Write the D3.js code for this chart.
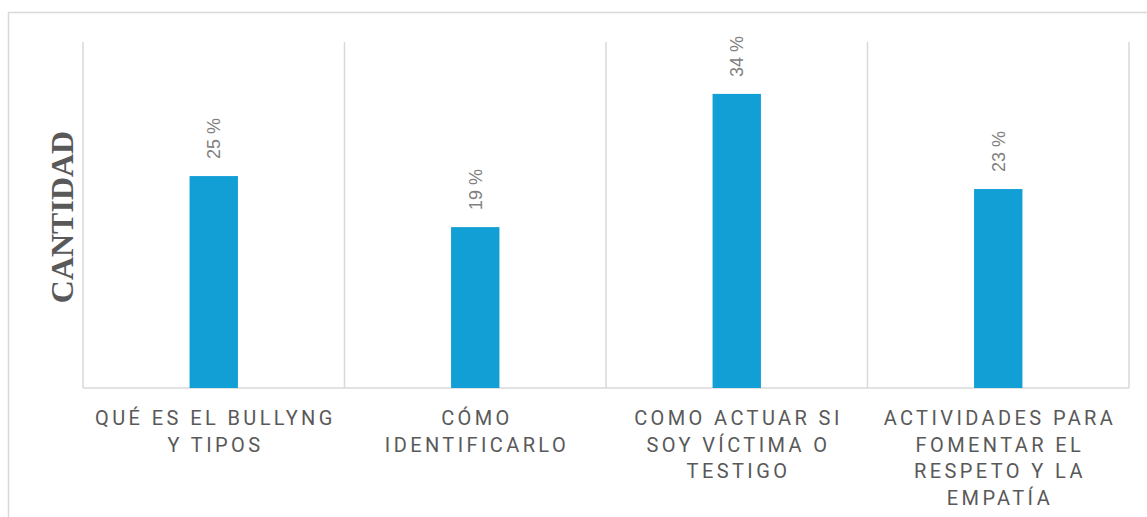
<!DOCTYPE html>
<html>
<head>
<meta charset="utf-8">
<script src="https://cdn.jsdelivr.net/npm/d3@7"></script>
<style>
	html, body { margin: 0; padding: 0; background: #fff; }
	svg { display: block; }
</style>
</head>
<body>
<svg width="1147" height="517"></svg>
<script>
	// categories, each one already split in lines like the original
	var categories = ["QUÉ ES EL BULLYNG Y TIPOS", "CÓMO IDENTIFICARLO", "COMO ACTUAR SI SOY VÍCTIMA O TESTIGO", "ACTIVIDADES PARA FOMENTAR EL RESPETO Y LA EMPATÍA"];
	var categoryLines = [
		["QUÉ ES EL BULLYNG", "Y TIPOS"],
		["CÓMO", "IDENTIFICARLO"],
		["COMO ACTUAR SI", "SOY VÍCTIMA O", "TESTIGO"],
		["ACTIVIDADES PARA", "FOMENTAR EL", "RESPETO Y LA", "EMPATÍA"]
	];
	var percentValues = [24.5, 18.6, 34, 23];
	var yDomain = [0, 40];
	var yTitle = "CANTIDAD";

	var svg = d3.select("svg"),
		margin = {top: 42, right: 18, bottom: 129, left: 83},
		width = 1147,
		height = 517;

	// outer chart frame (only top and left are visible)
	svg.append("path")
		.attr("d", "M8.5,517 V12.5 H1147")
		.attr("fill", "none")
		.attr("stroke", "#d9d9d9")
		.attr("stroke-width", 1.5);

	var x = d3.scaleBand()
		.domain(categories)
		.range([margin.left, width - margin.right])
		.padding(0);

	var y = d3.scaleLinear()
		.domain(yDomain)
		.range([height - margin.bottom, margin.top]);

	var barW = x.bandwidth() * 0.185;

	// vertical separators between categories
	var sepX = categories.map(function(d) { return x(d); }).concat([x.range()[1]]);
	svg.append("g").selectAll("line")
		.data(sepX)
		.enter().append("line")
		.attr("x1", function(d) { return d; })
		.attr("x2", function(d) { return d; })
		.attr("y1", y(yDomain[1]))
		.attr("y2", y(0))
		.attr("stroke", "#d9d9d9")
		.attr("stroke-width", 1.5);

	// baseline
	svg.append("line")
		.attr("x1", x.range()[0])
		.attr("x2", x.range()[1])
		.attr("y1", y(0))
		.attr("y2", y(0))
		.attr("stroke", "#d9d9d9")
		.attr("stroke-width", 1.5);

	var data = categories.map(function(c, i) {
		return {cat: c, value: percentValues[i], lines: categoryLines[i]};
	});

	svg.append("g").selectAll("rect")
		.data(data)
		.enter().append("rect")
		.attr("x", function(d) { return x(d.cat) + x.bandwidth() / 2 - barW / 2; })
		.attr("y", function(d) { return y(d.value); })
		.attr("width", barW)
		.attr("height", function(d) { return y(0) - y(d.value); })
		.attr("fill", "#119fd6");

	// value labels, rotated
	svg.append("g").selectAll("text")
		.data(data)
		.enter().append("text")
		.attr("transform", function(d) {
			return "translate(" + (x(d.cat) + x.bandwidth() / 2 + 6.5) + "," + (y(d.value) - 17) + ") rotate(-90)";
		})
		.attr("font-family", "'Liberation Sans', Arial, sans-serif")
		.attr("font-size", 18)
		.attr("fill", "#808080")
		.text(function(d) { return Math.round(d.value) + " %"; });

	// category labels
	var catG = svg.append("g").selectAll("text")
		.data(data)
		.enter().append("text")
		.attr("x", function(d) { return x(d.cat) + x.bandwidth() / 2; })
		.attr("y", y(0) + 37)
		.attr("text-anchor", "middle")
		.attr("font-family", "Roboto, sans-serif")
		.attr("font-size", 20)
		.attr("letter-spacing", "3.4px")
		.attr("fill", "#595959");

	catG.selectAll("tspan")
		.data(function(d) { return d.lines.map(function(l) { return {t: l, cx: x(d.cat) + x.bandwidth() / 2}; }); })
		.enter().append("tspan")
		.attr("x", function(d) { return d.cx + 1.7; })
		.attr("dy", function(d, i) { return i ? 26.5 : 0; })
		.text(function(d) { return d.t; });

	// y axis title
	svg.append("text")
		.attr("transform", "translate(73," + ((y(0) + y(yDomain[1])) / 2 + 2) + ") rotate(-90)")
		.attr("text-anchor", "middle")
		.attr("font-family", "'Liberation Serif', 'Times New Roman', serif")
		.attr("font-weight", "bold")
		.attr("font-size", 32)
		.attr("fill", "#595959")
		.text(yTitle);
</script>
</body>
</html>
